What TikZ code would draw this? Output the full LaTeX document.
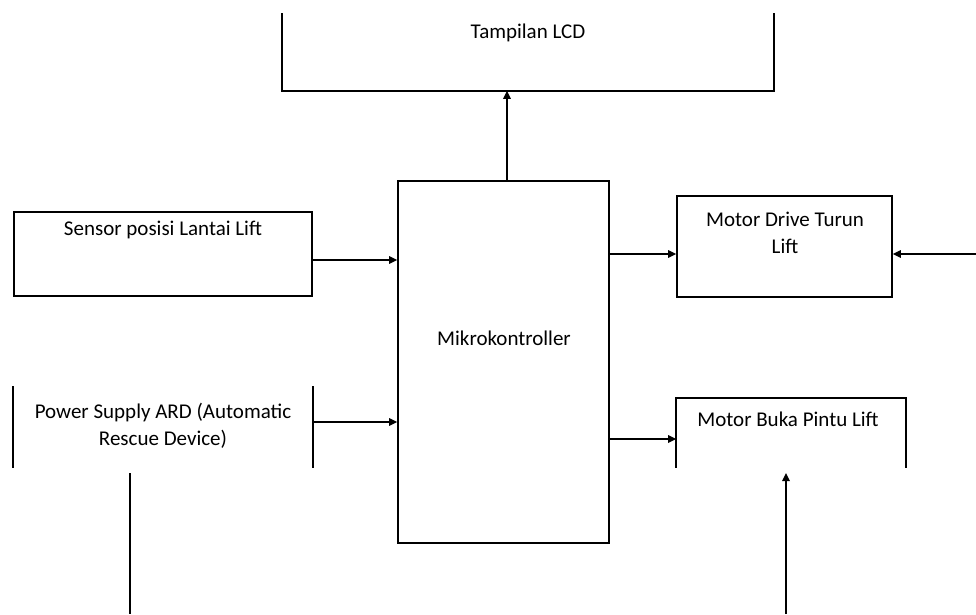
\documentclass[tikz,border=0pt]{standalone}
\usepackage{fontspec}
\setmainfont{Carlito}
\usetikzlibrary{arrows.meta}
\begin{document}
\begin{tikzpicture}[x=1pt,y=-1pt,
  line width=1.6pt,
  frame/.style={draw,line width=1.6pt,inner sep=0pt},
  hole/.style={inner sep=0pt},
  txt/.style={inner sep=0pt,align=center,font=\fontsize{21}{27}\selectfont},
  conn/.style={-{Triangle[length=8pt,width=7.5pt]},line width=1.6pt}]
\useasboundingbox[fill=white] (0,0) rectangle (976,614);
% Tampilan LCD (open top)
\node[hole,minimum width=490pt,minimum height=76pt] (lcd) at (528,52) {};
\draw (lcd.north west) -- (lcd.south west) -- (lcd.south east) -- (lcd.north east);
\node[txt] (lcdT) at (528,33) {Tampilan LCD};
% Sensor
\node[frame,minimum width=298pt,minimum height=84pt] (sensor) at (163,254) {};
\node[txt] (sensorT) at (163,230) {Sensor posisi Lantai Lift};
% Power supply (only side lines)
\node[hole,minimum width=298pt,minimum height=80pt] (power) at (163,427) {};
\draw (power.north west) -- (power.south west);
\draw (power.north east) -- (power.south east);
\node[txt] (powerT) at (163,426) {Power Supply ARD (Automatic\\Rescue Device)};
% Mikrokontroller
\node[frame,minimum width=211pt,minimum height=362pt] (mcu) at (503.5,362) {};
\node[txt] (mcuT) at (504,338) {Mikrokontroller};
% Motor Drive Turun Lift
\node[frame,minimum width=215pt,minimum height=101pt] (drive) at (784.5,246.5) {};
\node[txt] (driveT) at (785,233) {Motor Drive Turun\\Lift};
% Motor Buka Pintu Lift (open bottom)
\node[hole,minimum width=228pt,minimum height=68pt] (door) at (791,433) {};
\draw (door.south west) -- (door.north west) -- (door.north east) -- (door.south east);
\node[txt] (doorT) at (788,419) {Motor Buka Pintu Lift};
% free ends
\coordinate (rin) at (976,254);
\coordinate (pbot) at (786,614);
\coordinate (ptop) at (786,473);
\coordinate (lbot) at (130,614);
\coordinate (ltop) at (130,473);
% connectors
\draw[conn] (mcu.north -| 507,0) -- (lcd.south -| 507,0);
\draw[conn] (sensor.east |- 0,260) -- (mcu.west |- 0,260);
\draw[conn] (power.east |- 0,422) -- (mcu.west |- 0,422);
\draw[conn] (mcu.east |- 0,254) -- (drive.west |- 0,254);
\draw[conn] (rin) -- (drive.east |- rin);
\draw[conn] (mcu.east |- 0,439) -- (door.west |- 0,439);
\draw[conn] (pbot) -- (ptop);
\draw (ltop) -- (lbot);
\end{tikzpicture}
\end{document}
